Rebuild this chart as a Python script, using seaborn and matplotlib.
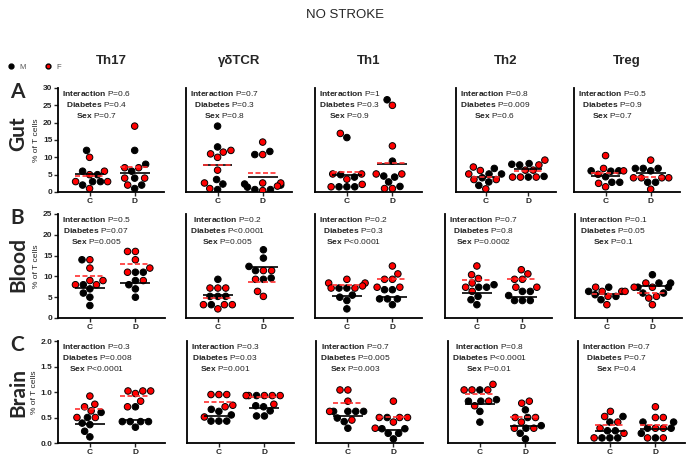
import matplotlib
matplotlib.use("Agg")
import matplotlib.pyplot as plt
from matplotlib.lines import Line2D
import numpy as np
import pandas as pd
import seaborn as sns

cells = ["Th17", "γδTCR", "Th1", "Th2", "Treg"]
groups = ["C", "D"]

# (control, diabetic) values, % of T cells
gut_m = {
    "Th17": ([12, 6, 5, 3, 3, 2], [12, 8, 6, 4, 2, 1]),
    "γδTCR": ([19, 13, 3.6, 2.3, 0.7], [11.7, 10.8, 2.3, 2, 1.4, 0.7, 0.7]),
    "Th1": ([15.7, 5, 4.3, 1.5, 1.5, 1.5], [26.6, 8.9, 4.6, 4.3, 2.9, 1.6]),
    "Th2": ([6.8, 5.2, 5.2, 4.1, 2.9, 1.9], [8.2, 8.0, 7.8, 4.5, 4.3]),
    "Treg": ([6.1, 6.1, 6.0, 4.4, 2.8, 2.8], [6.8, 6.8, 6.8, 6.1, 2.8, 2.8]),
}
gut_f = {
    "Th17": ([10, 6, 5, 3, 3, 1], [19, 7, 7, 4, 4, 2]),
    "γδTCR": ([12, 11.5, 11, 10, 6.3, 2.6, 1], [14.4, 10.8, 2.6, 2.6, 1.7, 0.4]),
    "Th1": ([16.9, 5.2, 5.2, 3.7, 2.2, 1.5], [25, 13.3, 5.2, 5.2, 1, 1]),
    "Th2": ([7.2, 6.2, 5.2, 3.6, 3.6, 0.9], [9.2, 7.8, 6.3, 6.3, 4.3, 4.3, 4.3]),
    "Treg": ([10.5, 6.8, 6.1, 5.1, 2.5, 1.5], [9.2, 4.1, 4.1, 4.1, 4.1, 0.8]),
}
blood_m = {
    "Th17": ([14, 8, 7, 6, 5, 3], [11, 11, 9, 8, 7, 5]),
    "γδTCR": ([9.3, 5.2, 5.2, 5.2, 3.2], [16.4, 14.4, 12.4, 11.4, 9.6, 9.3]),
    "Th1": ([7.2, 7.2, 5.5, 5, 4.2, 2.2], [6.8, 6.8, 4.6, 4.6, 4.6, 3.2]),
    "Th2": ([8, 7.4, 7.4, 5.2, 4.4, 3.2], [6.4, 6.4, 5.4, 4.2, 4.2, 4.2]),
    "Treg": ([7.4, 6.4, 5.6, 5.2, 4.4], [10.4, 8.4, 8.4, 7.4, 7.4, 6.0, 6.0]),
}
blood_f = {
    "Th17": ([14, 12, 9, 9, 8, 8], [16, 16, 14, 12, 11, 9]),
    "γδTCR": ([7.2, 7.2, 7.2, 3.2, 3.2, 3.2, 2.2], [11.4, 11.4, 9.3, 6.4, 5.2]),
    "Th1": ([9.3, 8.4, 8.4, 7.7, 7.2, 7.2], [12.5, 10.6, 9.3, 9.3, 7.4, 7.4]),
    "Th2": ([12.5, 10.4, 9.5, 8.4, 7.4, 6.4], [11.6, 10.6, 9.3, 9.3, 7.4, 7.4]),
    "Treg": ([7.4, 6.4, 6.4, 6.4, 5.2, 3.2], [8.4, 7.4, 7.4, 5.2, 4.8, 3.2]),
}
brain_m = {
    "Th17": ([0.6, 0.5, 0.39, 0.36, 0.23, 0.12], [0.71, 0.42, 0.42, 0.42, 0.42, 0.31]),
    "γδTCR": ([0.66, 0.62, 0.55, 0.43, 0.43, 0.43], [0.93, 0.73, 0.71, 0.63, 0.53, 0.53]),
    "Th1": ([0.62, 0.62, 0.62, 0.62, 0.49, 0.42, 0.29], [0.5, 0.28, 0.28, 0.19, 0.19, 0.08]),
    "Th2": ([1.04, 0.85, 0.82, 0.82, 0.62, 0.41], [0.65, 0.5, 0.34, 0.29, 0.19, 0.08]),
    "Treg": ([0.52, 0.41, 0.24, 0.24, 0.1, 0.1, 0.1], [0.41, 0.41, 0.29, 0.29, 0.19, 0.1]),
}
brain_f = {
    "Th17": ([0.92, 0.76, 0.71, 0.63, 0.5, 0.5], [1.02, 1.02, 1.02, 0.97, 0.82, 0.71]),
    "γδTCR": ([0.95, 0.95, 0.95, 0.74, 0.71, 0.51], [0.93, 0.93, 0.93, 0.93, 0.93, 0.76]),
    "Th1": ([1.04, 1.04, 0.82, 0.62, 0.45], [0.82, 0.5, 0.5, 0.5, 0.41, 0.29]),
    "Th2": ([1.15, 1.04, 1.04, 1.04, 0.82, 0.73], [0.82, 0.78, 0.5, 0.5, 0.41, 0.29, 0.29]),
    "Treg": ([0.62, 0.52, 0.41, 0.29, 0.19, 0.1], [0.71, 0.5, 0.5, 0.29, 0.29, 0.1, 0.1]),
}

# interaction, diabetes, sex
gut_p = {"Th17": ("P=0.6", "P=0.4", "P=0.7"), "γδTCR": ("P=0.7", "P=0.3", "P=0.8"),
         "Th1": ("P=1", "P=0.3", "P=0.9"), "Th2": ("P=0.8", "P=0.009", "P=0.6"),
         "Treg": ("P=0.5", "P=0.9", "P=0.7")}
blood_p = {"Th17": ("P=0.5", "P=0.07", "P=0.005"), "γδTCR": ("P=0.2", "P<0.0001", "P=0.005"),
           "Th1": ("P=0.2", "P=0.3", "P<0.0001"), "Th2": ("P=0.7", "P=0.8", "P=0.0002"),
           "Treg": ("P=0.1", "P=0.05", "P=0.1")}
brain_p = {"Th17": ("P=0.3", "P=0.008", "P<0.0001"), "γδTCR": ("P=0.3", "P=0.03", "P=0.001"),
           "Th1": ("P=0.7", "P=0.005", "P=0.003"), "Th2": ("P=0.8", "P<0.0001", "P=0.01"),
           "Treg": ("P=0.7", "P=0.7", "P=0.4")}

rows = [
    ("A", "Gut", gut_m, gut_f, gut_p, 30, 5),
    ("B", "Blood", blood_m, blood_f, blood_p, 25, 5),
    ("C", "Brain", brain_m, brain_f, brain_p, 2.0, 0.5),
]

sns.set_style("ticks")
plt.rcParams["font.family"] = ["Liberation Sans", "DejaVu Sans"]
plt.rcParams["mathtext.fontset"] = "custom"
plt.rcParams["mathtext.rm"] = "Liberation Sans"
plt.rcParams["mathtext.bf"] = "Liberation Sans:bold"

W, H = 689, 461
fig = plt.figure(figsize=(W / 100, H / 100), dpi=100)

row_lefts = [[58, 186, 315, 456, 574], [58, 186, 315, 445, 575], [58, 187, 316, 448, 578]]
row_tb = [(88, 192), (214, 318), (341, 443)]
widths = [106, 106, 107, 100, 106]
pal = {"M": "black", "F": "red"}

for r, (letter, region, males, females, pvals, ymax, ystep) in enumerate(rows):
    top, bot = row_tb[r]
    for c, cell in enumerate(cells):
        left = row_lefts[r][c]
        w = widths[c] if r == 0 else 107
        ax = fig.add_axes([left / W, 1 - bot / H, w / W, (bot - top) / H])
        recs = []
        for sex, src in (("M", males), ("F", females)):
            for g, vals in zip(groups, src[cell]):
                recs += [{"group": g, "sex": sex, "value": v} for v in vals]
        df = pd.DataFrame(recs)
        sns.swarmplot(data=df, x="group", y="value", hue="sex", order=groups,
                      hue_order=["M", "F"], palette=pal, size=4.7, linewidth=0.7,
                      edgecolor="black", legend=False, warn_thresh=1, ax=ax)
        means = df.groupby(["group", "sex"])["value"].mean()
        for i, g in enumerate(groups):
            ax.hlines(means[(g, "M")], i - 0.33, i + 0.33, color="black", lw=1.2, zorder=5)
            ax.hlines(means[(g, "F")], i - 0.33, i + 0.33, color="#ff3030", lw=1.2,
                      ls=(0, (3, 1.5)), zorder=6)
        ax.set_xlim(-0.7, 1.65)
        ax.set_ylim(0, ymax)
        sns.despine(ax=ax)
        for s in ("left", "bottom"):
            ax.spines[s].set_linewidth(1.3)
            ax.spines[s].set_color("black")
        ax.set_xlabel("")
        ax.tick_params(axis="x", length=3, width=1, pad=1.5, labelsize=6)
        for lab in ax.get_xticklabels():
            lab.set_fontweight("bold")
        if c == 0:
            ax.set_yticks(np.arange(0, ymax + ystep / 2, ystep))
            if ymax < 5:
                ax.set_yticklabels([f"{t:.1f}" for t in ax.get_yticks()])
            ax.tick_params(axis="y", length=3, width=1, pad=1, labelsize=6)
            for lab in ax.get_yticklabels():
                lab.set_fontweight("bold")
            ax.set_ylabel("% of T cells", fontsize=6, labelpad=2)
        else:
            ax.set_yticks([])
            ax.set_ylabel("")
        ip, dp, sp = pvals[cell]
        txt = "\n".join([r"$\mathbf{Interaction}$ " + ip,
                         r"$\mathbf{Diabetes}$ " + dp,
                         r"$\mathbf{Sex}$ " + sp])
        ax.text(0.035, 0.99, txt, transform=ax.transAxes, ha="left", va="top",
                multialignment="center", fontsize=6, linespacing=1.3, color="#222222")
        if r == 0:
            ax.set_title(cell, fontsize=9.5, fontweight="bold", pad=17)
    fig.text(17 / W, 1 - (top + 4) / H, letter, fontsize=15, fontweight="bold",
             ha="center", va="center", family=["Lato", "DejaVu Sans"])
    mid = {"Gut": 134, "Blood": 265, "Brain": 392}[region]
    fig.text(18 / W, 1 - mid / H, region, fontsize=15, fontweight="bold", rotation=90,
             ha="center", va="center", family=["Lato", "DejaVu Sans"])

fig.text(0.5, 1 - 15 / H, "NO STROKE", fontsize=9.5, ha="center", va="center")

handles = [Line2D([], [], marker="o", ls="", color="black", markersize=3.5),
           Line2D([], [], marker="o", ls="", markerfacecolor="red",
                  markeredgecolor="black", markersize=3.5)]
leg = fig.legend(handles, ["M", "F"], ncol=2, loc="center left",
                 bbox_to_anchor=(0.0, 1 - 67 / H), frameon=False, fontsize=5.5,
                 handletextpad=0.6, columnspacing=2.5, handlelength=1)
for t in leg.get_texts():
    t.set_color("#555555")

fig.savefig("out.png", dpi=100)
